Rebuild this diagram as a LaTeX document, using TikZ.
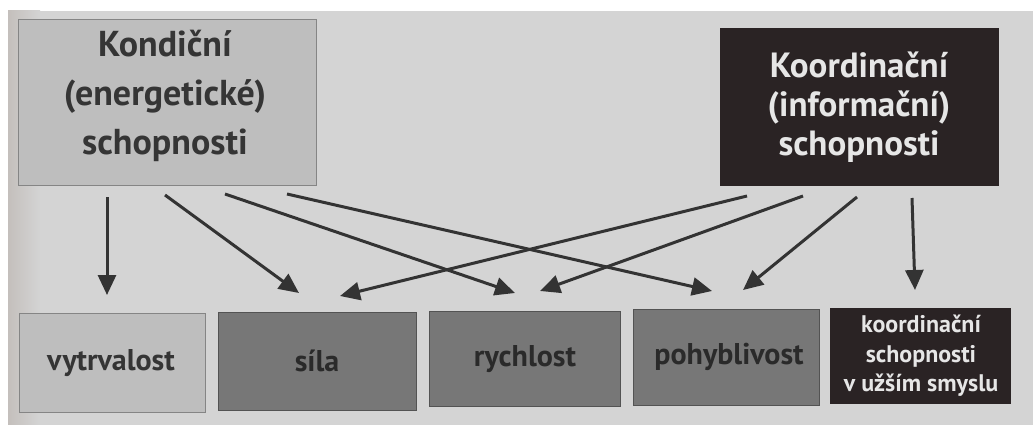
\documentclass[tikz,border=0pt]{standalone}
\usepackage{fontspec}
\setmainfont{PT Sans}
\usetikzlibrary{arrows.meta}
\definecolor{page}{HTML}{D4D4D4}
\definecolor{pageedge}{HTML}{C4BFBC}
\definecolor{lightbox}{HTML}{BEBEBE}
\definecolor{midbox}{HTML}{777777}
\definecolor{darkbox}{HTML}{2A2324}
\definecolor{darktext}{HTML}{353535}
\definecolor{lighttext}{HTML}{E6E6E6}
\definecolor{arrowc}{HTML}{333333}
\tikzset{
  box/.style={draw=#1!70!black, line width=0.8pt, inner sep=0pt, outer sep=0pt},
  lightb/.style={box=lightbox, fill=lightbox},
  midb/.style={box=midbox, fill=midbox},
  darkb/.style={draw=darkbox, fill=darkbox, line width=0.8pt},
  conn/.style={draw=arrowc, line width=3pt, -{Triangle[length=20pt,width=18pt]}},
  bigtxt/.style={font=\bfseries\fontsize{36}{49}\selectfont, align=center, text=darktext, inner sep=0pt},
  rtxt/.style={font=\bfseries\fontsize{35}{39}\selectfont, align=center, text=lighttext, inner sep=0pt},
  lowtxt/.style={font=\bfseries\fontsize{30}{32}\selectfont, text=darktext, inner sep=0pt},
  midtxt/.style={lowtxt, text=darktext!80!black},
  smalltxt/.style={font=\bfseries\fontsize{24}{29.5}\selectfont, align=center, text=lighttext, inner sep=0pt},
}
\begin{document}
\begin{tikzpicture}[x=1pt,y=-1pt]
\useasboundingbox (0,0) rectangle (1033,425);
\fill[white] (0,0) rectangle (1033,425);
\fill[page] (8,11) rectangle (1033,425);
\shade[left color=pageedge, right color=page] (8,11) rectangle (40,425);
% top boxes
\path[lightb] (18,19) rectangle (316,185);
\node[bigtxt] (kond) at (165,96) {Kondiční\\(energetické)\\schopnosti};
\path[darkb] (720,28) rectangle (998,185);
\node[rtxt] (koord) at (859,107) {Koordinační\\(informační)\\schopnosti};
% bottom boxes
\path[lightb] (19,313) rectangle (205,412);
\node[lowtxt] (vytr) at (111,363) {vytrvalost};
\path[midb] (218,312) rectangle (416,410);
\node[midtxt] (sila) at (317,361) {síla};
\path[midb] (429,311) rectangle (620,406);
\node[midtxt] (rych) at (525,359) {rychlost};
\path[midb] (633,309) rectangle (819,405);
\node[midtxt] (pohy) at (729,357) {pohyblivost};
\path[darkb] (830,308) rectangle (1010,403);
\node[smalltxt] (kous) at (921,356) {koordinační\\schopnosti\\v užším smyslu};
% connector anchors
\coordinate (a1s) at (107,197); \coordinate (a1e) at (107,295);
\coordinate (a2s) at (165,195); \coordinate (a2e) at (299,293);
\coordinate (a3s) at (225,194); \coordinate (a3e) at (515,293);
\coordinate (a4s) at (287,194); \coordinate (a4e) at (712,291);
\coordinate (b1s) at (747,196); \coordinate (b1e) at (340,296);
\coordinate (b2s) at (803,196); \coordinate (b2e) at (540,291);
\coordinate (b3s) at (857,197); \coordinate (b3e) at (743,290);
\coordinate (b4s) at (912,198); \coordinate (b4e) at (915,290);
\draw[conn] (a1s) -- (a1e);
\draw[conn] (a2s) -- (a2e);
\draw[conn] (a3s) -- (a3e);
\draw[conn] (a4s) -- (a4e);
\draw[conn] (b1s) -- (b1e);
\draw[conn] (b2s) -- (b2e);
\draw[conn] (b3s) -- (b3e);
\draw[conn] (b4s) -- (b4e);
\end{tikzpicture}
\end{document}
